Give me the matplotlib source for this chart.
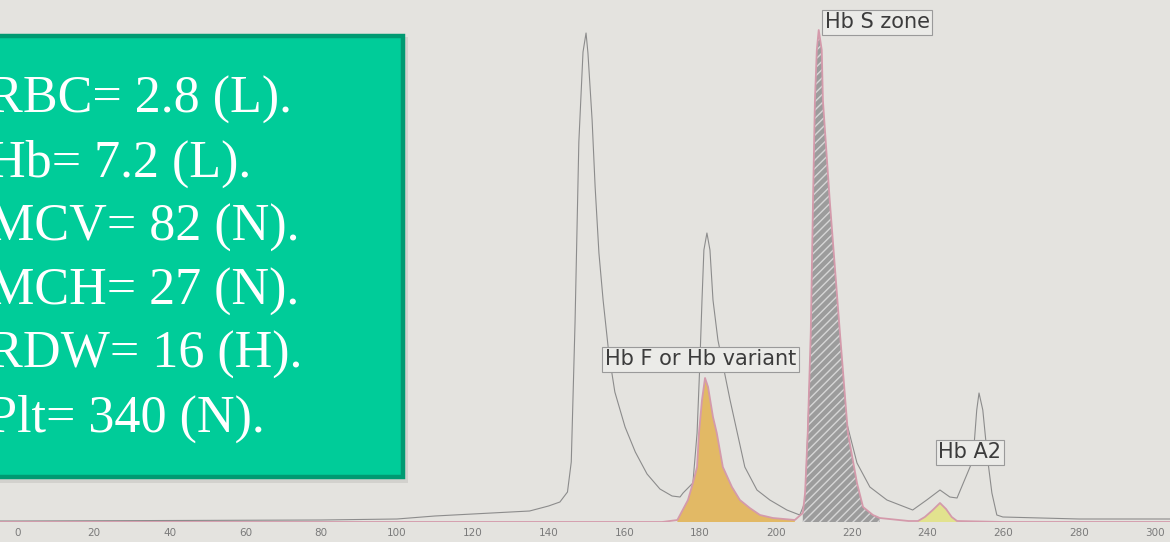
import matplotlib
matplotlib.use("Agg")
import matplotlib.pyplot as plt
from matplotlib.patches import Rectangle
import numpy as np

# ---------------- data ----------------
# reference / control trace (thin grey outline)
ref_x = [-5, 0, 40, 80, 100, 110, 125, 135, 140, 143, 145, 146, 147, 148, 149.1, 149.9,
         150.4, 151.5, 152.3, 153.3, 154.4, 155.9, 157.5, 160.2, 162.9, 166.0, 169.4,
         172.6, 174.7, 175.5, 178.1, 179.2, 179.9, 180.5, 181.0, 181.8, 182.6, 183.4,
         184.7, 187.9, 191.8, 195.0, 198.4, 202.9, 206.3, 207.7, 209.0, 210.3, 211.6,
         213.7, 215.6, 217.4, 218.7, 221.4, 224.8, 229.3, 236.1, 239.8, 243.3, 245.9,
         247.8, 252.0, 253.0, 253.6, 254.6, 255.9, 257.0, 258.3, 259.9, 280, 305]
ref_h = [1, 1, 1.5, 2, 3, 6, 9, 11, 16, 20, 30, 60, 200, 380, 470, 489,
         469, 402, 335, 269, 222, 169, 130, 95, 70, 48, 33,
         26, 25, 29, 39, 89, 155, 222, 272, 289, 272, 222,
         182, 122, 55, 32, 22, 12, 7, 20, 150, 300, 330,
         300, 220, 140, 99, 59, 35, 22, 12, 22, 32, 25,
         24, 62, 112, 129, 112, 62, 29, 7, 5, 3, 3]

# patient trace (pink line with the filled zones)
pat_x = [-5, 100, 170, 174.0, 174.7, 176.8, 178.1, 179.2, 179.7, 180.5, 181.3, 182.1,
         183.4, 184.4, 186.0, 188.4, 190.5, 193.1, 195.8, 199.2, 205.0, 207.1, 207.7,
         208.4, 209.2, 209.8, 210.3, 210.8, 211.3, 212.1, 212.4, 214.2, 216.9, 219.0,
         221.4, 223.0, 225.6, 227.4, 235.0, 237.5, 239.3, 241.4, 243.3, 244.9, 246.4,
         247.8, 260, 305]
pat_h = [0, 0, 0, 2, 7, 22, 39, 55, 89, 122, 144, 135,
         105, 89, 55, 35, 22, 14, 7, 4, 2, 9, 29,
         89, 189, 322, 422, 472, 492, 472, 422, 322, 189, 89,
         39, 15, 7, 4, 1, 1, 5, 12, 19, 13, 5,
         1, 0, 0]

# filled zones: (start, end, face colour, hatch)
zone_start = [173.5, 206.5, 237.0]
zone_end = [205.0, 228.0, 248.5]
zone_color = ["#e2b965", "#9c9c9c", "#e2e28e"]
zone_hatch = [None, "////", None]

# peak labels
label_text = ["Hb S zone", "Hb F or Hb variant", "Hb A2"]
label_x = [212.9, 154.9, 242.8]
label_y = [500, 163, 70]

x_ticks = list(range(0, 301, 20))

stats = ["RBC= 2.8 (L).", "Hb= 7.2 (L).", "MCV= 82 (N).",
         "MCH= 27 (N).", "RDW= 16 (H).", "Plt= 340 (N)."]

# ---------------- drawing ----------------
W, H = 1170, 542
BG = "#e4e3df"
plt.rcParams["hatch.color"] = "#d6d6d6"
plt.rcParams["hatch.linewidth"] = 1.0

fig = plt.figure(figsize=(W / 100, H / 100), dpi=100, facecolor=BG)
ax = fig.add_axes([0, 20 / H, 1, 522 / H])
ax.set_facecolor(BG)
ax.set_xlim(-4.75, 304.0)
ax.set_ylim(0, 522)
for s in ax.spines.values():
    s.set_visible(False)
ax.set_yticks([])
ax.set_xticks(x_ticks)
ax.set_xticklabels([str(t) for t in x_ticks])
ax.tick_params(axis="x", length=0, pad=4, labelsize=7.5, labelcolor="#7a7a7a")

rx = np.array(ref_x); rh = np.array(ref_h)
px_ = np.array(pat_x); ph = np.array(pat_h)

ax.plot(rx, rh, color="#8c8c8c", lw=0.8, zorder=2)

for lo, hi, c, ht in zip(zone_start, zone_end, zone_color, zone_hatch):
    m = (px_ >= lo) & (px_ <= hi)
    if ht:
        ax.fill_between(px_[m], 0, ph[m], facecolor=c, edgecolor="#d6d6d6",
                        hatch=ht, linewidth=0, zorder=3)
    else:
        ax.fill_between(px_[m], 0, ph[m], facecolor=c, linewidth=0, zorder=3)

ax.plot(px_, ph, color="#d49aab", lw=1.3, zorder=4)

for t, x, y in zip(label_text, label_x, label_y):
    ax.text(x, y, t, ha="left", va="center", fontsize=15, color="#3c3c3c",
            family="DejaVu Sans", zorder=6,
            bbox=dict(boxstyle="square,pad=0.12", fc="#ebebe8", ec="#9a9a9a", lw=0.8))

# green info box (figure pixel coordinates)
def fx(p): return p / W
def fy(p): return (H - p) / H

fig.patches.append(Rectangle((fx(-6), fy(483)), fx(414), 446 / H, transform=fig.transFigure,
                             fc="#000000", alpha=0.08, lw=0, zorder=9))
fig.patches.append(Rectangle((fx(-10), fy(477)), fx(413), 441 / H, transform=fig.transFigure,
                             fc="#00cc99", ec="#009a72", lw=3.2, zorder=10))

baselines = [113, 177, 241, 305, 368, 432]
for s, b in zip(stats, baselines):
    fig.text(fx(-12), fy(b), s, fontsize=37.5, family="Liberation Serif", color="white",
             ha="left", va="baseline", zorder=11)

fig.savefig("out.png", dpi=100, facecolor=BG)
